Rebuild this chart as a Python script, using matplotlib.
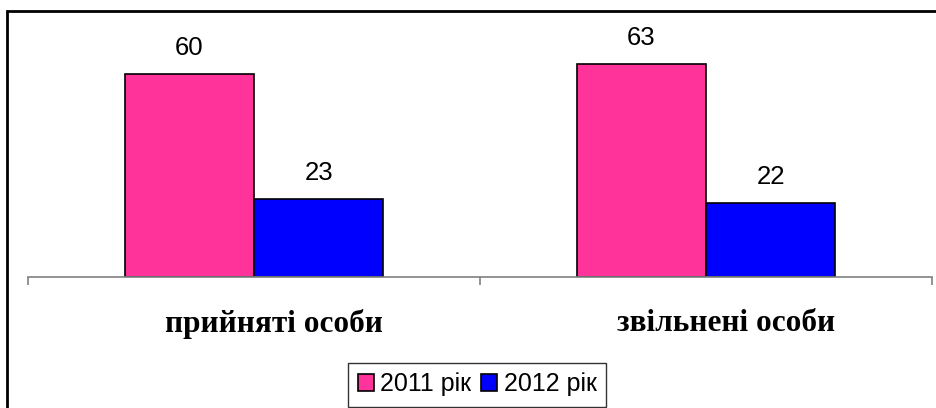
import matplotlib
matplotlib.use("Agg")
import matplotlib.pyplot as plt
import matplotlib.transforms as mtransforms
import numpy as np
from matplotlib.patches import Rectangle

categories = ["прийняті особи", "звільнені особи"]
series_names = ["2011 рік", "2012 рік"]
values_2011 = [60, 63]
values_2012 = [23, 22]
colors = ["#FF3399", "#0000FF"]

W, H = 936, 408
fig = plt.figure(figsize=(W / 100, H / 100), dpi=100)

# figure frame (cropped on the right and bottom)
fig.patches.append(Rectangle((7.5 / W, -0.1), 2.0, 1.1 - 11.5 / H,
                             transform=fig.transFigure, fill=False,
                             edgecolor="black", linewidth=2, zorder=0))

ax = fig.add_axes([28 / W, (H - 277) / H, (932 - 28) / W, (277 - 11) / H])

x = np.arange(len(categories))
bw = 0.2857
b1 = ax.bar(x - bw / 2, values_2011, bw, color=colors[0], edgecolor="black",
            linewidth=1.2, label=series_names[0])
b2 = ax.bar(x + bw / 2, values_2012, bw, color=colors[1], edgecolor="black",
            linewidth=1.2, label=series_names[1])

for bars, vals in [(b1, values_2011), (b2, values_2012)]:
    for r, v in zip(bars, vals):
        ax.annotate(str(v), (r.get_x() + r.get_width() / 2, r.get_height()),
                    xytext=(0, 10), textcoords="offset points",
                    ha="center", va="bottom", fontsize=18.5,
                    family="Liberation Sans")

ax.set_xlim(-0.5, len(categories) - 0.5)
ax.set_ylim(0, 78.7)

for s in ["left", "right", "top"]:
    ax.spines[s].set_visible(False)
ax.spines["bottom"].set_color("#808080")
ax.spines["bottom"].set_linewidth(1.2)
ax.set_yticks([])

ax.set_xticks(x)
ax.set_xticklabels(categories, fontsize=22.5, fontweight="bold",
                   family="Liberation Serif")
ax.tick_params(axis="x", which="major", length=0, pad=23)
# category labels sit a little to the right of the group centres
shift = mtransforms.ScaledTranslation(20 / 100, 0, fig.dpi_scale_trans)
for lbl in ax.get_xticklabels():
    lbl.set_transform(lbl.get_transform() + shift)
ax.set_xticks(np.arange(-0.5, len(categories)), minor=True)
ax.tick_params(axis="x", which="minor", length=6, color="#808080",
               width=1.2, direction="out")

leg = fig.legend(loc="lower center", bbox_to_anchor=(477 / W, -11 / H), ncol=2,
                 frameon=True, fancybox=False, edgecolor="black",
                 handlelength=0.65, handleheight=0.65, handletextpad=0.25,
                 columnspacing=0.4, borderpad=0.4,
                 prop={"family": "Liberation Sans", "size": 18})
leg.get_frame().set_linewidth(1.0)

fig.savefig("out.png", dpi=100)
